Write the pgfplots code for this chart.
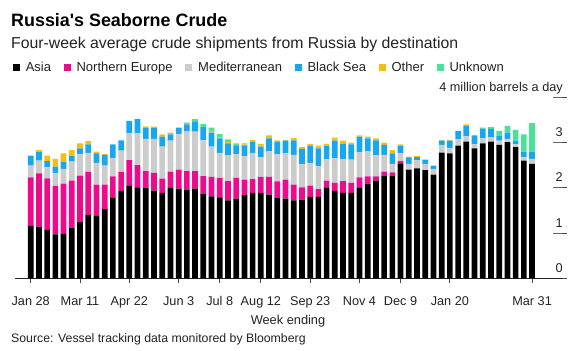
\documentclass[border=0pt]{standalone}
\usepackage{pgfplots}
\pgfplotsset{compat=1.18}
\usepackage{pgfplotstable}
\usepackage{fontspec}
\setmainfont{Liberation Sans}
\definecolor{cAsia}{HTML}{000000}
\definecolor{cNE}{HTML}{EE0A8D}
\definecolor{cMed}{HTML}{CCCCCC}
\definecolor{cBS}{HTML}{16A7F0}
\definecolor{cOth}{HTML}{F6BE12}
\definecolor{cUnk}{HTML}{48E396}
\definecolor{txt}{HTML}{222222}

\pgfplotstableread{
x A NE Med BS Oth Unk
0 1.16 1.07 0.26 0.22 0 0
1 1.14 1.18 0.28 0.19 0.05 0
2 1.07 1.14 0.24 0.14 0.12 0
3 0.97 1.07 0.29 0.14 0.17 0
4 0.98 1.11 0.33 0.15 0.19 0
5 1.11 1.05 0.42 0.12 0.13 0
6 1.24 1.03 0.48 0.12 0.11 0
7 1.40 0.95 0.42 0.19 0.07 0
8 1.38 0.69 0.48 0.21 0.04 0
9 1.53 0.54 0.42 0.24 0.02 0
10 1.78 0.47 0.41 0.30 0 0
11 1.93 0.42 0.47 0.23 0 0
12 2.04 0.57 0.59 0.28 0 0
13 2.01 0.49 0.70 0.32 0 0
14 1.99 0.38 0.71 0.25 0.03 0
15 1.94 0.39 0.75 0.25 0.02 0
16 1.89 0.31 0.71 0.22 0.05 0
17 2.00 0.36 0.68 0.14 0.04 0
18 1.98 0.42 0.79 0.14 0 0
19 1.96 0.41 0.88 0.15 0.01 0.03
20 1.98 0.39 0.87 0.23 0 0.05
21 1.87 0.39 0.79 0.29 0 0.07
22 1.81 0.43 0.67 0.31 0.04 0.07
23 1.79 0.43 0.55 0.32 0.03 0.07
24 1.72 0.43 0.57 0.26 0.03 0.06
25 1.76 0.46 0.52 0.20 0 0.04
26 1.84 0.34 0.52 0.24 0.02 0.02
27 1.89 0.30 0.58 0.25 0.04 0
28 1.88 0.36 0.44 0.23 0.06 0
29 1.85 0.39 0.57 0.28 0.07 0
30 1.77 0.37 0.60 0.28 0.03 0
31 1.76 0.42 0.58 0.28 0.02 0
32 1.72 0.35 0.66 0.32 0.05 0
33 1.74 0.27 0.51 0.34 0.04 0
34 1.80 0.25 0.50 0.38 0.04 0
35 1.80 0.17 0.51 0.39 0.06 0
36 2.00 0.16 0.47 0.29 0.05 0
37 1.93 0.18 0.54 0.39 0.07 0
38 1.89 0.26 0.48 0.34 0.07 0
39 1.89 0.22 0.51 0.34 0.04 0
40 2.00 0.23 0.56 0.34 0.03 0
41 2.09 0.16 0.56 0.28 0.04 0
42 2.16 0.09 0.47 0.33 0.04 0
43 2.26 0.10 0.37 0.22 0.05 0
44 2.26 0.08 0.19 0.23 0.07 0
45 2.54 0.05 0.17 0.16 0.04 0
46 2.40 0 0.13 0.14 0.02 0
47 2.43 0 0.18 0.07 0.02 0
48 2.39 0 0.14 0.09 0 0
49 2.29 0 0.13 0.07 0 0
50 2.78 0 0.17 0.09 0.02 0
51 2.76 0 0.12 0.16 0.02 0
52 2.93 0 0.14 0.19 0 0
53 3.02 0 0.12 0.23 0.03 0
54 2.87 0 0.09 0.20 0 0
55 2.98 0 0.11 0.22 0 0.02
56 3.02 0 0.10 0.18 0 0.04
57 2.95 0 0.09 0.10 0 0.12
58 3.01 0 0.07 0.14 0 0.15
59 2.90 0 0.06 0.08 0 0.24
60 2.60 0 0.07 0.13 0 0.38
61 2.53 0 0.11 0.16 0 0.63
}\crude

\begin{document}
\begin{tikzpicture}
\useasboundingbox (0,0) rectangle (574pt,351pt);
\node[anchor=base west, inner sep=0pt, font=\fontsize{17.9}{20}\selectfont\bfseries, text=black] at (11pt,324.3pt) {Russia\textquotesingle s Seaborne Crude};
\node[anchor=base west, inner sep=0pt, font=\fontsize{15.8}{18}\selectfont, text=txt] at (11pt,302.7pt) {Four-week average crude shipments from Russia by destination};
\node[anchor=base, inner sep=0pt, font=\fontsize{12.8}{15}\selectfont, text=txt] at (288pt,26.5pt) {Week ending};
\node[anchor=base west, inner sep=0pt, font=\fontsize{12.3}{15}\selectfont, text=txt] at (11pt,8.7pt) {Source: Vessel tracking data monitored by Bloomberg};
\begin{axis}[
  at={(15pt,72.7pt)}, anchor=south west,
  scale only axis, width=547pt, height=181pt,
  xmin=-1.91, xmax=64.64, ymin=0, ymax=4,
  ybar stacked, bar width=5.7pt,
  separate axis lines,
  axis x line*=bottom, axis y line*=right,
  x axis line style={-, draw=black!85, line width=0.8pt},
  y axis line style={-, draw opacity=0},
  tick align=outside, major tick length=5pt,
  tick style={draw=black!70, line width=0.8pt},
  ymajorgrids=true,
  y grid style={draw=black!60, line width=0.8pt, dash pattern=on 0pt off 538pt on 9pt off 50pt},
  xtick={0,6,12,18,23,28,34,40,45,51,61},
  xticklabels={Jan 28,Mar 11,Apr 22,Jun 3,Jul 8,Aug 12,Sep 23,Nov 4,Dec 9,Jan 20,Mar 31},
  xticklabel style={anchor=base, inner sep=0pt, yshift=-22.4pt, font=\fontsize{12.7}{15}\selectfont, text=txt},
  ytick={0,1,2,3,4},
  yticklabels={0,1,2,3,4 million barrels a day},
  yticklabel style={anchor=base east, inner sep=0pt, xshift=-4pt, yshift=6pt, font=\fontsize{12.7}{15}\selectfont, text=txt},
  /pgf/number format/assume math mode=true,
  legend columns=-1,
  legend image code/.code={\fill[#1] (0pt,0pt) rectangle (7pt,7.5pt);},
  legend style={at={(-0.004,1.136)}, anchor=south west, draw=none, fill=none,
    inner sep=0pt, outer sep=0pt, font=\fontsize{13}{15}\selectfont, text=txt,
    nodes={inner sep=0pt}, cells={anchor=base west},
    /tikz/every odd column/.append style={column sep=6pt},
    /tikz/every even column/.append style={column sep=12.5pt}},
]
\addplot[fill=cAsia, draw=none] table[x=x, y=A] {\crude};
\addplot[fill=cNE, draw=none] table[x=x, y=NE] {\crude};
\addplot[fill=cMed, draw=none] table[x=x, y=Med] {\crude};
\addplot[fill=cBS, draw=none] table[x=x, y=BS] {\crude};
\addplot[fill=cOth, draw=none] table[x=x, y=Oth] {\crude};
\addplot[fill=cUnk, draw=none] table[x=x, y=Unk] {\crude};
\legend{Asia,Northern Europe,Mediterranean,Black Sea,Other,Unknown}
\end{axis}
\end{tikzpicture}
\end{document}
